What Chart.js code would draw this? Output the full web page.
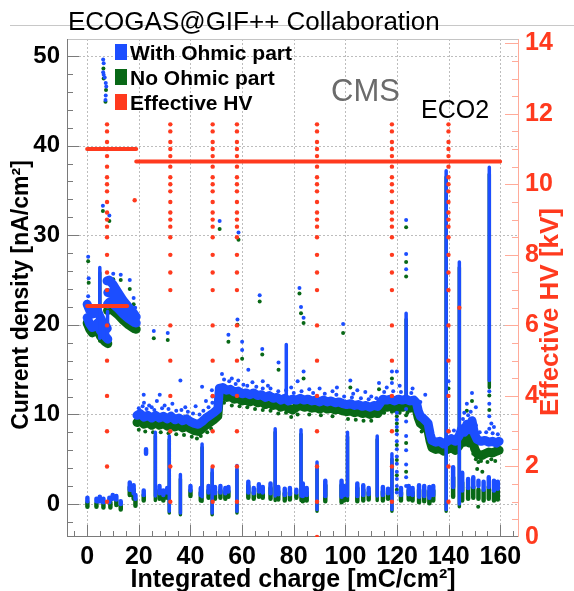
<!DOCTYPE html>
<html>
<head>
<meta charset="utf-8">
<style>
  html, body { margin: 0; padding: 0; background: #fff; }
  #myChart { display: block; }
</style>
</head>
<body>
<canvas id="myChart" width="574" height="591"></canvas>
<script src="https://cdn.jsdelivr.net/npm/chart.js@4.4.1/dist/chart.umd.min.js"></script>
<script>
// ---- data ----
// x = integrated charge [mC/cm2], y = current density [nA/cm2], HV in kV (right axis)

// HV scans: one column of points at each scan position
const hvScanX = [7.7, 32.2, 48.6, 58.0, 89.0, 118.0, 139.9];
const hvScanKV = [1, 2, 3, 4, 5, 6, 7, 7.5, 8, 8.5, 8.8, 9, 9.2, 9.5, 9.8, 10, 10.2, 10.5, 10.8, 11, 11.2, 11.5, 11.7];
const hvExtra = [[89, 0], [18.4, 9.55], [144.1, 6.5]];
// working points held constant: [from, to, kV]
const hvSteps = [[0, 19, 11.0], [19, 159.9, 10.65], [0, 15.5, 6.55]];

// dense bands (null = break)
const blueBand = [
  [0, 22.3], [1, 21.6], [2, 21.2], [3, 21.3], [4, 21.6], [4.8, 21.0], [6, 20.3], [7, 20.0], [7.8, 19.6], null,
  [0, 20.8], [1, 20.1], [2, 19.7], [3, 19.9], [4, 20.2], [5, 19.4], [6, 19.0], [7, 18.7], [8, 18.4], null,
  [7.7, 24.9], [8.5, 25.0], [10, 24.5], [12, 23.6], [14, 22.7], [16, 22.0], [18, 21.3], [19, 20.9], null,
  [8, 23.6], [10, 23.4], [12, 22.7], [14, 21.9], [16, 21.3], [18, 20.8], null,
  [7.9, 22.3], [8.5, 22.5], [10, 22.3], [12, 21.8], [14, 21.2], [16, 20.7], [18, 20.3], [19, 20.2], null,
  [19.3, 9.9], [20.5, 10.1], [22, 9.7], [23.5, 9.9], [25, 9.6], [26.5, 9.9], [28, 9.6], [29.5, 9.8],
  [31, 9.5], [32.5, 9.8], [34, 9.4], [35.5, 9.6], [37, 9.3], [38.5, 9.5], [40, 9.2], [41.5, 9.0],
  [43, 8.9], [44.5, 9.2], [46, 9.6], [47.5, 9.9], [49, 10.2], [50.6, 10.6],
  [51.2, 12.9], [52.5, 13.0], [54, 12.7], [55.5, 12.8], [57, 12.5], [58.5, 12.6], [60, 12.3], [61.5, 12.4],
  [63, 12.2], [64.5, 12.4], [66, 12.1], [67.5, 12.2], [69, 11.9], [70.5, 12.1], [72, 11.8], [73.5, 11.9],
  [75, 11.6], [76.5, 11.8], [78, 11.5], [79.5, 11.7], [81, 11.6], [82.5, 11.8], [84, 11.6], [85.5, 11.7],
  [87, 11.5], [88.5, 11.6], [90, 11.4], [91.5, 11.6], [93, 11.4], [94.5, 11.5], [96, 11.3], [97.5, 11.4],
  [99, 11.2], [100.5, 11.1], [102, 11.2], [103.5, 11.0], [105, 11.1], [106.5, 10.9], [108, 11.0], [109.5, 10.8],
  [111, 11.0], [112.5, 10.9], [113.5, 11.3], [114.5, 11.7], [116, 11.6], [117.5, 11.7], [119, 11.5], [120.5, 11.7],
  [122, 11.6], [123.5, 11.7], [125, 11.5], [126.5, 11.6], [127.5, 11.3], [128.2, 10.4], [129, 9.8], [130, 9.6],
  [131, 9.3], [132, 9.0], [132.8, 7.8], [133.5, 7.1], [135, 6.9], [136.5, 7.0], [138, 6.7], [139.5, 7.0],
  [141, 7.3], [142.5, 7.0], [144, 7.6], [145, 8.4], [146, 8.0], [147, 8.9], [148, 8.3], [149, 9.3],
  [150, 7.8], [151, 7.2], [152.5, 7.0], [154, 7.1], [155.5, 6.9], [157, 7.0], [158.5, 6.8], [159.5, 7.0]
];
const greenBand = [
  [0, 20.2], [1, 19.5], [2, 19.1], [3, 19.3], [4, 19.6], [5, 18.8], [6, 18.4], [7, 18.1], [8, 17.9], null,
  [7.9, 21.6], [8.5, 21.8], [10, 21.6], [12, 21.1], [14, 20.5], [16, 20.0], [18, 19.6], [19, 19.5], null,
  [19.3, 9.1], [20.5, 9.3], [22, 8.9], [23.5, 9.1], [25, 8.8], [26.5, 9.1], [28, 8.8], [29.5, 9.0],
  [31, 8.7], [32.5, 9.0], [34, 8.6], [35.5, 8.8], [37, 8.5], [38.5, 8.7], [40, 8.4], [41.5, 8.2],
  [43, 8.1], [44.5, 8.4], [46, 8.8], [47.5, 9.1], [49, 9.4], [50.6, 9.8],
  [51.2, 12.1], [52.5, 12.2], [54, 11.9], [55.5, 12.0], [57, 11.7], [58.5, 11.8], [60, 11.5], [61.5, 11.6],
  [63, 11.4], [64.5, 11.6], [66, 11.3], [67.5, 11.4], [69, 11.1], [70.5, 11.3], [72, 11.0], [73.5, 11.1],
  [75, 10.8], [76.5, 11.0], [78, 10.7], [79.5, 10.5], [81, 10.8], [82.5, 11.0], [84, 10.8], [85.5, 10.9],
  [87, 10.7], [88.5, 10.8], [90, 10.6], [91.5, 10.8], [93, 10.6], [94.5, 10.7], [96, 10.5], [97.5, 10.6],
  [99, 10.4], [100.5, 10.3], [102, 10.4], [103.5, 10.2], [105, 10.3], [106.5, 10.1], [108, 10.2], [109.5, 10.0],
  [111, 10.2], [112.5, 10.1], [113.5, 10.5], [114.5, 10.9], [116, 10.8], [117.5, 10.9], [119, 10.7], [120.5, 10.9],
  [122, 10.8], [123.5, 10.9], [125, 10.7], [126.5, 10.8], [127.5, 10.5], [128.2, 9.6], [129, 9.0], [130, 8.8],
  [131, 8.5], [132, 8.2], [132.8, 7.0], [133.5, 6.3], [135, 6.1], [136.5, 6.2], [138, 5.9], [139.5, 6.1],
  [141, 6.3], [142.5, 6.0], [144, 6.5], [145, 7.0], [146, 6.9], [147, 7.4], [148, 6.8], [149, 7.6],
  [150, 6.2], [151, 5.6], [152.5, 5.4], [154, 5.6], [155.5, 5.8], [157, 5.7], [158.5, 5.9], [159.5, 6.0]
];

// vertical spikes: [x, low, high]
const blueSpikes = [
  [4.9, 18.5, 26.4], [7.9, 18.2, 21.5], [26.4, 0.9, 8.0], [31.8, -0.8, 7.6], [36.1, -1.0, 3.3],
  [44.5, 0.8, 6.7], [48.4, -1.0, 4.0], [58.0, -0.8, 4.3], [72.8, 0.9, 8.4], [77.1, 11.5, 17.8],
  [82.8, 0.9, 8.3], [89.0, -0.6, 4.7], [100.8, 0.9, 8.0], [112.3, 0.9, 7.6], [118.0, -0.6, 5.6],
  [123.5, 11.6, 21.3], [139.0, -0.6, 37.2], [144.1, 0.0, 27.0], [155.7, 13.8, 37.6]
];
const greenSpikes = [
  [4.9, 18.2, 25.8], [26.4, 0.4, 7.6], [31.8, -1.0, 7.2], [36.1, -1.2, 2.8], [44.5, 0.3, 6.3],
  [48.4, -1.2, 3.5], [58.0, -1.0, 3.8], [72.8, 0.4, 8.0], [82.8, 0.4, 7.8], [89.0, -0.8, 4.2],
  [100.8, 0.4, 7.5], [112.3, 0.4, 7.2], [118.0, -0.8, 5.0], [123.5, 11.0, 20.6], [139.0, -0.8, 36.5],
  [144.1, -0.3, 26.4], [155.7, 13.0, 36.8]
];

// low-current blobs (HV off / low HV): [x, low, high]
const blueLow = [
  [0.1, 0.3, 0.7], [3.6, 0.3, 0.6], [4.9, 0.3, 0.8], [6.3, 0.2, 0.6], [8.6, 0.2, 0.7], [9.9, 0.6, 1.0],
  [11.3, 0.5, 0.9], [13.0, 0.0, 0.3], [16.5, 1.6, 2.4], [18.0, 1.2, 2.1], [18.7, 0.6, 1.0], [21.9, 1.0, 1.5],
  [22.8, 5.6, 6.1], [28.0, 1.2, 2.0], [29.5, 1.0, 1.5], [31.0, 1.3, 1.8], [40.0, 1.5, 2.0], [44.0, 1.0, 1.8],
  [47.0, 1.3, 2.0], [49.5, 1.2, 1.9], [51.6, 1.3, 2.0], [53.5, 1.2, 1.8], [54.7, 1.4, 1.9], [62.4, 1.3, 2.5],
  [64.5, 1.2, 1.8], [66.5, 1.4, 2.2], [68.0, 1.3, 1.9], [71.0, 1.2, 2.3], [74.0, 1.1, 1.9], [76.5, 1.0, 1.7],
  [78.5, 1.1, 1.8], [81.0, 1.3, 1.6], [83.5, 0.9, 2.3], [85.0, 1.0, 1.8], [92.2, 0.9, 2.6], [98.5, 0.8, 2.6],
  [99.5, 1.0, 2.0], [104.6, 0.9, 2.3], [106.9, 1.0, 2.1], [109.0, 1.1, 1.8], [114.5, 1.0, 1.9], [116.5, 1.2, 1.7],
  [121.5, 1.0, 1.8], [124.5, 1.1, 2.0], [126.0, 1.0, 1.8], [128.5, 0.8, 2.1], [130.5, 0.9, 2.0], [132.5, 0.7, 1.9],
  [134.0, 1.0, 2.0], [141.7, 1.9, 4.1], [145.2, 1.5, 3.5], [147.5, 1.8, 2.8], [149.5, 1.9, 3.0], [151.5, 2.0, 2.6],
  [153.5, 1.6, 2.5], [155.5, 1.9, 3.0], [157.5, 1.5, 2.6], [159.0, 1.7, 2.5]
];
const greenLow = [
  [0.1, -0.3, 0.2], [3.6, -0.3, 0.1], [6.3, -0.4, 0.1], [9.0, -0.4, 0.2], [11.3, -0.1, 0.4], [13.0, -0.6, -0.2],
  [16.5, 1.0, 1.9], [18.0, 0.6, 1.6], [18.7, -0.2, 0.5], [21.9, 0.4, 1.0], [28.0, 0.6, 1.5], [29.5, 0.4, 1.0],
  [31.0, 0.7, 1.3], [40.0, 0.9, 1.5], [44.0, 0.4, 1.3], [47.0, 0.7, 1.5], [49.5, 0.6, 1.4], [51.6, 0.7, 1.5],
  [53.5, 0.6, 1.3], [54.7, 0.8, 1.4], [62.4, 0.7, 2.0], [64.5, 0.6, 1.3], [66.5, 0.8, 1.7], [68.0, 0.7, 1.4],
  [71.0, 0.6, 1.8], [74.0, 0.5, 1.4], [76.5, 0.4, 1.2], [78.5, 0.5, 1.3], [81.0, 0.7, 1.1], [83.5, 0.3, 1.8],
  [85.0, 0.4, 1.3], [92.2, 0.3, 2.1], [98.5, 0.2, 2.1], [99.5, 0.4, 1.5], [104.6, 0.3, 1.8], [106.9, 0.4, 1.6],
  [109.0, 0.5, 1.3], [114.5, 0.4, 1.4], [116.5, 0.6, 1.2], [121.5, 0.4, 1.3], [124.5, 0.5, 1.5], [126.0, 0.4, 1.3],
  [128.5, 0.2, 1.6], [130.5, 0.3, 1.5], [132.5, 0.1, 1.4], [134.0, 0.4, 1.5], [141.7, 0.8, 3.0], [145.2, 0.4, 2.4],
  [147.5, 0.6, 1.9], [149.5, 0.7, 1.9], [151.5, 0.6, 1.6], [153.5, 0.4, 1.5], [155.5, 0.6, 1.9], [157.5, 0.4, 1.6],
  [159.0, 0.5, 1.5]
];

// scattered single points
const blueDots = [
  [6.2, 49.6], [6.4, 49.2], [6.2, 48.2], [6.4, 47.9], [6.8, 47.6], [7.2, 47.0], [7.4, 46.6], [7.2, 45.6], [7.1, 45.1],
  [6.1, 33.3], [8.6, 32.2], [51.3, 31.6], [58.6, 30.3], [58.2, 20.6], [66.8, 23.3], [82.2, 24.1], [82.8, 22.0],
  [83.8, 20.8], [99.1, 20.1], [123.5, 31.7], [123.5, 27.9], [123.5, 26.2], [25.8, 19.3], [31.2, 19.1],
  [67.8, 17.3], [60.0, 18.1], [60.0, 17.2], [54.7, 18.9], [74.1, 15.8], [81.5, 13.7], [68.0, 13.7], [62.4, 15.0],
  [52.2, 14.5], [48.3, 12.7], [44.5, 13.1], [36.1, 13.8], [28.1, 12.2], [21.9, 12.2], [83.8, 14.8], [101.9, 13.8],
  [104.6, 12.7], [96.7, 13.0], [107.7, 12.5], [113.0, 13.5], [118.0, 14.8], [118.0, 13.5], [119.9, 14.8], [130.9, 12.2],
  [0.4, 27.6], [0.6, 25.2], [0.4, 23.2], [10.1, 25.7], [13.0, 25.6], [16.5, 25.0], [18.0, 23.0], [18.6, 21.9],
  [22, 11.3], [24, 11.0], [27, 11.5], [30, 11.0], [33, 11.2], [38, 10.8], [42, 10.9], [46, 11.5], [48.5, 12.0],
  [56, 14.0], [58.5, 13.8], [64, 13.6], [70, 13.2], [79, 13.0], [86, 12.8], [90, 12.9], [95, 12.6], [103, 12.3],
  [110, 12.0], [116, 13.0], [121, 13.2], [126, 12.9], [129, 11.4],
  [139.9, 13.7], [147.0, 11.2], [149.0, 12.4], [150.5, 10.8], [146.0, 10.2], [157.5, 8.6], [156.5, 9.0],
  [119.9, 10.2], [119.9, 9.4], [119.9, 8.6], [119.9, 7.8], [119.9, 7.0], [119.9, 6.1], [119.9, 5.3], [119.9, 4.5],
  [119.9, 3.6], [119.9, 2.8], [119.9, 2.0], [119.9, 1.3],
  [123.5, 10.6], [123.5, 9.2], [123.5, 7.6], [123.5, 6.0], [123.5, 4.4], [123.5, 3.0], [123.5, 2.0],
  [155.7, 12.6], [155.7, 11.2], [155.7, 9.8], [155.7, 8.4]
];
// points sticking out of the dense bands
const blueEdge = [
  [20, 10.7], [21.5, 10.9], [23, 10.6], [25, 10.8], [26, 10.5], [29, 10.7], [31.5, 10.6], [34.5, 10.4],
  [36.5, 10.5], [39, 10.3], [41, 10.1], [43.5, 10.0], [45, 10.4], [47, 10.8], [48.5, 11.3], [50, 11.6],
  [53, 13.9], [55, 13.7], [57.5, 13.4], [60.5, 13.3], [62, 13.2], [65.5, 13.1], [68, 12.9], [71, 12.9],
  [74, 12.6], [77, 12.7], [80, 12.4], [83, 12.6], [87.5, 12.4], [92, 12.3], [96.5, 12.2], [99.5, 12.0],
  [102.5, 11.9], [106, 11.8], [109, 11.7], [112, 11.8], [115, 12.5], [118.5, 12.6], [121.5, 12.5], [125.5, 12.4],
  [140, 8.1], [142, 8.2], [145.5, 9.5], [147.5, 9.9], [148.5, 10.3], [150.5, 8.8], [152, 8.0], [154.5, 8.0],
  [157, 7.9], [159, 7.8]
];
const greenDots = [
  [6.3, 48.6], [6.4, 47.5], [7.3, 46.2], [7.1, 44.9], [6.1, 32.7], [8.6, 31.6], [51.3, 30.7], [58.6, 29.5],
  [58.2, 20.0], [66.8, 22.6], [82.2, 23.5], [82.8, 21.3], [83.8, 20.2], [99.1, 19.1], [123.5, 30.9], [123.5, 27.0],
  [123.5, 25.4], [25.8, 18.5], [31.2, 18.3], [67.8, 16.7], [60.0, 16.2], [54.7, 18.1], [74.1, 15.0], [83.8, 14.0],
  [101.9, 13.0], [113.0, 12.8], [118.0, 14.0], [0.4, 27.1], [0.6, 24.7], [10.1, 25.1], [13.0, 25.0], [16.5, 24.0],
  [18.0, 22.3], [139.9, 12.9], [147.0, 10.4], [149.0, 11.5],
  [149.5, 5.6], [150.5, 5.0], [151.5, 4.7], [152.5, 4.8], [153.5, 5.2], [155.0, 4.7], [156.5, 5.0], [158.0, 4.8],
  [151.0, 3.9], [153.0, 3.6], [151.4, -0.3],
  [119.9, 9.8], [119.9, 9.0], [119.9, 8.2], [119.9, 6.6], [119.9, 4.9], [119.9, 3.2], [119.9, 1.6],
  [123.5, 9.9], [123.5, 6.8], [123.5, 3.6], [155.7, 12.1], [155.7, 10.5]
];
const greenEdge = [
  [20, 8.3], [22.5, 8.1], [25.5, 8.0], [28.5, 8.0], [31.5, 7.9], [34.5, 7.8], [37.5, 7.7], [40.5, 7.5],
  [42.5, 7.3], [44, 7.6], [46.5, 8.0], [48, 8.4], [53, 11.3], [56, 11.0], [59, 10.9], [62, 10.8],
  [65, 10.6], [68, 10.5], [71, 10.4], [74, 10.1], [77, 10.2], [79, 9.7], [81.5, 10.0], [86, 10.0],
  [90.5, 9.9], [95, 9.8], [101, 9.5], [104, 9.4], [107, 9.3], [110, 9.3], [115, 10.2], [118, 10.3],
  [121, 10.2], [124, 10.2], [129.5, 8.1], [131.5, 7.7]
];

// ---- colours ----
const BLUE = 'rgb(28, 78, 255)';
const GREEN = 'rgb(8, 104, 22)';
const RED = 'rgb(255, 58, 30)';
const FONT = '"Liberation Sans", Arial, Helvetica, sans-serif';

// ---- helpers to turn the lists into Chart.js points ----
function path(list) {
  const out = [];
  let lastX = 0;
  list.forEach(function (p) {
    if (p === null) { out.push({ x: lastX, y: null }); }
    else { out.push({ x: p[0], y: p[1] }); lastX = p[0]; }
  });
  return out;
}
function segs(list) {
  const out = [];
  list.forEach(function (s) {
    out.push({ x: s[0], y: s[1] }, { x: s[0], y: s[2] }, { x: s[0], y: null });
  });
  return out;
}
function dots(list) {
  return list.map(function (p) { return { x: p[0], y: p[1] }; });
}

const hvPoints = [];
hvScanX.forEach(function (x) {
  hvScanKV.forEach(function (kv) { hvPoints.push({ x: x, y: kv }); });
});
hvExtra.forEach(function (p) { hvPoints.push({ x: p[0], y: p[1] }); });
const hvLines = [];
hvSteps.forEach(function (s) {
  hvLines.push({ x: s[0], y: s[2] }, { x: s[1], y: s[2] }, { x: s[1], y: null });
});

function lineSet(label, pts, color, width, axis) {
  return {
    type: 'line', label: label, data: pts, yAxisID: axis || 'y',
    borderColor: color, backgroundColor: color, borderWidth: width,
    borderCapStyle: 'round', borderJoinStyle: 'round',
    pointRadius: 0, spanGaps: false, tension: 0, fill: false
  };
}
function dotSet(label, pts, color, r, axis) {
  return {
    type: 'scatter', label: label, data: pts, yAxisID: axis || 'y',
    backgroundColor: color, borderWidth: 0, pointRadius: r, pointHoverRadius: r
  };
}

// first dataset is drawn on top
const datasets = [
  lineSet('Effective HV', hvLines, RED, 4, 'y2'),
  dotSet('Effective HV scan', hvPoints, RED, 2.2, 'y2'),
  dotSet('With Ohmic part', dots(blueDots.concat(blueEdge)), BLUE, 2),
  lineSet('With Ohmic spikes', segs(blueSpikes), BLUE, 3.5),
  lineSet('With Ohmic low', segs(blueLow), BLUE, 4.5),
  lineSet('With Ohmic band', path(blueBand), BLUE, 9),
  dotSet('No Ohmic part', dots(greenDots.concat(greenEdge)), GREEN, 2),
  lineSet('No Ohmic spikes', segs(greenSpikes), GREEN, 3.5),
  lineSet('No Ohmic low', segs(greenLow), GREEN, 4.5),
  lineSet('No Ohmic band', path(greenBand), GREEN, 9)
];

// ---- frame, dotted grid and ROOT-style inner ticks ----
const rootFrame = {
  id: 'rootFrame',
  beforeDraw(chart) {
    const c = chart.ctx;
    c.save();
    c.fillStyle = '#fff';
    c.fillRect(0, 0, chart.width, chart.height);
    c.strokeStyle = '#c8c8c8';
    c.lineWidth = 1;
    c.beginPath(); c.moveTo(10, 25.5); c.lineTo(chart.width, 25.5); c.stroke();
    c.restore();
  },
  beforeDatasetsDraw(chart) {
    const c = chart.ctx, a = chart.chartArea;
    const sx = chart.scales.x, sy = chart.scales.y, sr = chart.scales.y2;
    function ln(x1, y1, x2, y2) { c.beginPath(); c.moveTo(x1, y1); c.lineTo(x2, y2); c.stroke(); }
    c.save();
    c.lineWidth = 1;
    c.strokeStyle = '#bdbdbd';
    c.setLineDash([2, 2]);
    for (let v = 0; v <= 160; v += 20) {
      const px = Math.round(sx.getPixelForValue(v)) + 0.5;
      ln(px, a.top, px, a.bottom);
    }
    for (let v = 0; v <= 50; v += 10) {
      const py = Math.round(sy.getPixelForValue(v)) + 0.5;
      ln(a.left, py, a.right, py);
    }
    c.setLineDash([]);
    // top border
    c.strokeStyle = '#c4c4c4';
    ln(a.left, a.top + 0.5, a.right, a.top + 0.5);
    // left / bottom axes with inner ticks
    c.strokeStyle = '#7a7a7a';
    ln(a.left + 0.5, a.top, a.left + 0.5, a.bottom);
    ln(a.left, a.bottom - 0.5, a.right, a.bottom - 0.5);
    for (let v = -2; v <= 50; v += 2) {
      const py = Math.round(sy.getPixelForValue(v)) + 0.5;
      ln(a.left, py, a.left + (v % 10 === 0 ? 12 : 6), py);
    }
    for (let v = -5; v <= 165; v += 5) {
      const px = Math.round(sx.getPixelForValue(v)) + 0.5;
      ln(px, a.bottom, px, a.bottom - (v % 20 === 0 ? 12 : 6));
    }
    // right HV axis
    c.strokeStyle = '#ffab9a';
    ln(a.right - 0.5, a.top, a.right - 0.5, a.bottom);
    for (let v = 0.5; v <= 14; v += 0.5) {
      const py = Math.round(sr.getPixelForValue(v)) + 0.5;
      ln(a.right, py, a.right - (v % 2 === 0 ? 14 : 7), py);
    }
    c.restore();
  },
  afterDraw(chart) {
    const c = chart.ctx, a = chart.chartArea;
    c.save();
    c.textBaseline = 'alphabetic';
    c.textAlign = 'left';
    // header
    c.fillStyle = '#000';
    c.font = '26px ' + FONT;
    c.fillText('ECOGAS@GIF++ Collaboration', 68, 30);
    c.fillStyle = '#6b6b6b';
    c.font = '31px ' + FONT;
    c.fillText('CMS', 331, 101);
    c.fillStyle = '#000';
    c.font = '25px ' + FONT;
    c.fillText('ECO2', 421, 118);
    // legend
    const leg = [['With Ohmic part', BLUE, 60], ['No Ohmic part', GREEN, 85], ['Effective HV', RED, 110]];
    c.font = 'bold 21px ' + FONT;
    leg.forEach(function (l) {
      c.fillStyle = l[1];
      c.fillRect(115, l[2] - 16, 12, 16);
      c.fillStyle = '#000';
      c.fillText(l[0], 130, l[2]);
    });
    // axis titles
    c.font = 'bold 25px ' + FONT;
    c.textAlign = 'center';
    c.fillStyle = '#000';
    c.fillText('Integrated charge [mC/cm\u00b2]', (a.left + a.right) / 2, 587);
    c.textBaseline = 'middle';
    c.save();
    c.font = 'bold 23px ' + FONT;
    c.translate(22, 295);
    c.rotate(-Math.PI / 2);
    c.fillText('Current density [nA/cm\u00b2]', 0, 0);
    c.restore();
    c.save();
    c.fillStyle = RED;
    c.font = 'bold 26px ' + FONT;
    c.translate(551, 312);
    c.rotate(-Math.PI / 2);
    c.fillText('Effective HV [kV]', 0, 0);
    c.restore();
    c.restore();
  }
};

const ctx = document.getElementById('myChart');

let chart = new Chart(ctx, {
  type: 'scatter',
  data: { datasets: datasets },
  options: {
    responsive: false,
    animation: false,
    events: [],
    layout: { padding: { top: 39, left: 0, right: 0, bottom: 0 } },
    plugins: {
      legend: { display: false },
      tooltip: { enabled: false },
      title: { display: false }
    },
    scales: {
      x: {
        type: 'linear', position: 'bottom', min: -7.8, max: 167.2,
        afterFit: function (s) { s.height = 54; },
        grid: { display: false, drawTicks: false },
        border: { display: false },
        ticks: {
          stepSize: 20, includeBounds: false, padding: 5, maxRotation: 0, autoSkip: false,
          color: '#000', font: { family: FONT, size: 25, weight: 'bold' }
        }
      },
      y: {
        type: 'linear', position: 'left', min: -3.68, max: 51.9,
        afterFit: function (s) { s.width = 67; },
        grid: { display: false, drawTicks: false },
        border: { display: false },
        ticks: {
          stepSize: 10, includeBounds: false, padding: 7,
          color: '#000', font: { family: FONT, size: 24, weight: 'bold' }
        }
      },
      y2: {
        type: 'linear', position: 'right', min: 0, max: 14.12,
        afterFit: function (s) { s.width = 55; },
        grid: { display: false, drawTicks: false },
        border: { display: false },
        ticks: {
          stepSize: 2, includeBounds: false, padding: 6,
          color: RED, font: { family: FONT, size: 25, weight: 'bold' }
        }
      }
    }
  },
  plugins: [rootFrame]
});
</script>
</body>
</html>
